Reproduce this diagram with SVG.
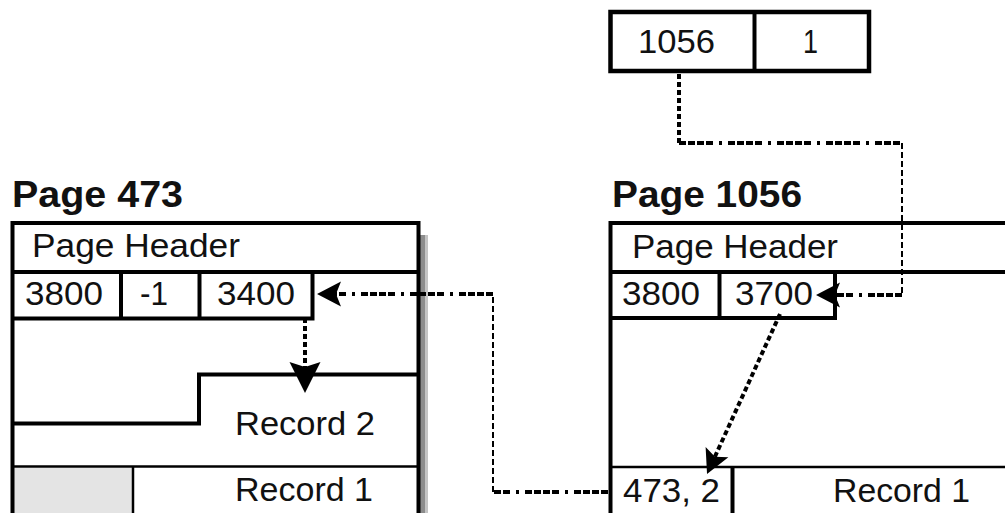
<svg xmlns="http://www.w3.org/2000/svg" width="1005" height="513" viewBox="0 0 1005 513">
  <style>
    .box { fill: #ffffff; stroke: #000; stroke-width: 4.5; }
    .ln { fill: none; stroke: #000; stroke-width: 4; }
    .thin { fill: none; stroke: #000; stroke-width: 2.5; }
    .t { font-family: "Liberation Sans", Arial, Helvetica, sans-serif; font-size: 34px; fill: #111; }
    .title { font-family: "Liberation Sans", Arial, Helvetica, sans-serif; font-size: 36px; font-weight: bold; fill: #111; }
    .dashdot { fill: none; stroke: #000; stroke-width: 4; stroke-dasharray: 7 2 7 2 7 2 7 6 3 6; }
    .dashed { fill: none; stroke: #000; stroke-width: 2; stroke-dasharray: 6 3; }
    .dotted { fill: none; stroke: #000; stroke-width: 4; stroke-dasharray: 5 3; }
  </style>
  <defs>
    <marker id="arrow" markerUnits="userSpaceOnUse" viewBox="-8 -14 28 28" markerWidth="28" markerHeight="28" refX="0" refY="0" orient="auto">
      <path d="M18,0 L-6,-12.5 L-1,0 L-6,12.5 Z" fill="#000"/>
    </marker>
    <marker id="arrow-lg" markerUnits="userSpaceOnUse" viewBox="-10 -17 38 34" markerWidth="38" markerHeight="34" refX="0" refY="0" orient="auto">
      <path d="M24,0 L-7,-15.5 L-2,0 L-7,15.5 Z" fill="#000"/>
    </marker>
  </defs>

  <rect width="1005" height="513" fill="#ffffff"/>

  <!-- Record identifier: page number and slot -->
  <g id="rid-box">
    <rect class="box" x="610.5" y="12" width="258.5" height="59"/>
    <line class="ln" x1="754.5" y1="12" x2="754.5" y2="71"/>
    <text class="t" x="638" y="53" textLength="77" lengthAdjust="spacingAndGlyphs">1056</text>
    <text class="t" x="803" y="53" textLength="15" lengthAdjust="spacingAndGlyphs">1</text>
  </g>

  <!-- Page 473 -->
  <g id="page-473">
    <text class="title" x="12" y="207" textLength="171" lengthAdjust="spacingAndGlyphs">Page 473</text>
    <rect x="420" y="235" width="5" height="280" fill="#8c8c8c"/>
    <rect x="425" y="235" width="3" height="280" fill="#c4c4c4"/>
    <rect x="14" y="468" width="119" height="47" fill="#e4e4e4"/>
    <path class="ln" d="M12.5,515 V223 H418.5 V515"/>
    <line class="ln" x1="12.5" y1="272" x2="418.5" y2="272"/>
    <path class="ln" d="M12.5,318.5 H312.5 V272"/>
    <line class="ln" x1="121" y1="272" x2="121" y2="318.5"/>
    <line class="ln" x1="199.5" y1="272" x2="199.5" y2="318.5"/>
    <path class="ln" d="M12.5,423.5 H199 V374.5 H418.5"/>
    <line class="thin" x1="12.5" y1="466.5" x2="418.5" y2="466.5"/>
    <line class="thin" x1="133" y1="466.5" x2="133" y2="515"/>
    <text class="t" x="32" y="257" textLength="208" lengthAdjust="spacingAndGlyphs">Page Header</text>
    <text class="t" x="25" y="305" textLength="78" lengthAdjust="spacingAndGlyphs">3800</text>
    <text class="t" x="140" y="305" textLength="28" lengthAdjust="spacingAndGlyphs">-1</text>
    <text class="t" x="217" y="305" textLength="78" lengthAdjust="spacingAndGlyphs">3400</text>
    <text class="t" x="235" y="435" textLength="140" lengthAdjust="spacingAndGlyphs">Record 2</text>
    <text class="t" x="235" y="501" textLength="138" lengthAdjust="spacingAndGlyphs">Record 1</text>
  </g>

  <!-- Page 1056 -->
  <g id="page-1056">
    <text class="title" x="612" y="207" textLength="190" lengthAdjust="spacingAndGlyphs">Page 1056</text>
    <path class="ln" d="M610.5,515 V223 H1010"/>
    <line class="ln" x1="610.5" y1="272" x2="1010" y2="272"/>
    <path class="ln" d="M610.5,318 H835 V272"/>
    <line class="ln" x1="719.5" y1="272" x2="719.5" y2="318"/>
    <line class="thin" x1="610.5" y1="467" x2="1010" y2="467"/>
    <line class="ln" x1="732.5" y1="467" x2="732.5" y2="515"/>
    <text class="t" x="632" y="258" textLength="206" lengthAdjust="spacingAndGlyphs">Page Header</text>
    <text class="t" x="622" y="305" textLength="78" lengthAdjust="spacingAndGlyphs">3800</text>
    <text class="t" x="735" y="305" textLength="78" lengthAdjust="spacingAndGlyphs">3700</text>
    <text class="t" x="623" y="502" textLength="97" lengthAdjust="spacingAndGlyphs">473, 2</text>
    <text class="t" x="833" y="502" textLength="137" lengthAdjust="spacingAndGlyphs">Record 1</text>
  </g>

  <!-- Pointers between slots and records -->
  <g id="connectors">
    <!-- rid to slot 1 of page 1056 -->
    <line class="dotted" x1="679" y1="74" x2="679" y2="143"/>
    <line class="dashdot" x1="679" y1="143" x2="902" y2="143"/>
    <line class="dashed" x1="902" y1="143" x2="902" y2="295"/>
    <line class="dashdot" x1="902" y1="295" x2="834" y2="295" marker-end="url(#arrow)"/>
    <!-- slot 1 to forwarding address -->
    <line class="dotted" x1="780" y1="314" x2="714.5" y2="457.6" marker-end="url(#arrow)"/>
    <!-- forwarding address to slot 2 of page 473 -->
    <line class="dashdot" x1="608" y1="492" x2="493" y2="492"/>
    <line class="dashed" x1="493" y1="492" x2="493" y2="294"/>
    <line class="dashdot" x1="493" y1="294" x2="335" y2="294" marker-end="url(#arrow)"/>
    <!-- slot 2 to record 2 -->
    <line class="dotted" x1="305" y1="318" x2="305" y2="369" marker-end="url(#arrow-lg)"/>
  </g>
</svg>
